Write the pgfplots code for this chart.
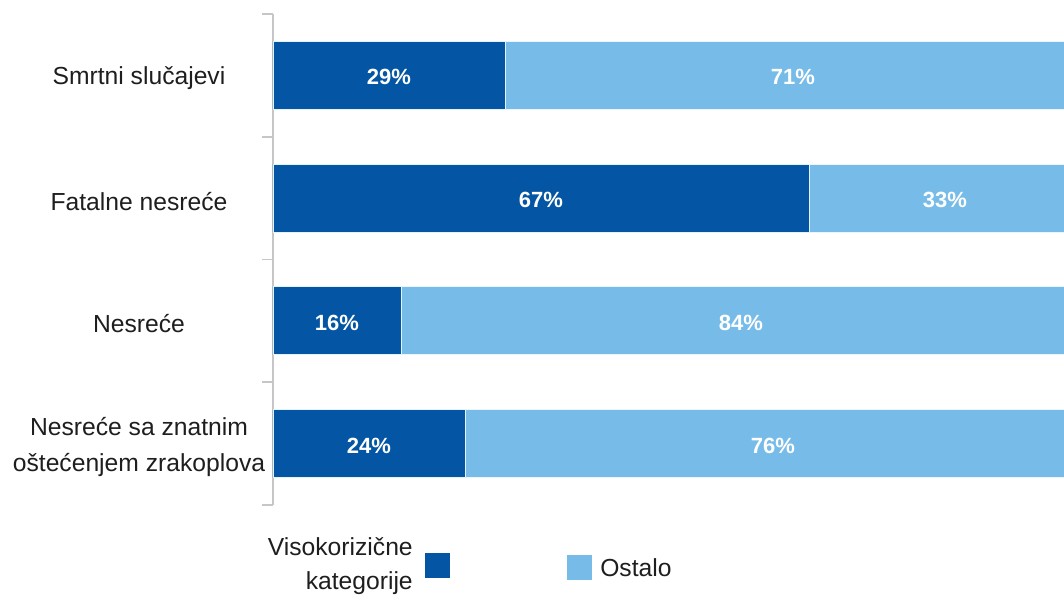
\documentclass[border=0pt]{standalone}
\usepackage{fontspec}
\setmainfont{Liberation Sans}
\usepackage{pgfplots}
\pgfplotsset{compat=1.18}

\definecolor{darkbar}{RGB}{4,85,163}
\definecolor{lightbar}{RGB}{119,188,232}
\definecolor{txt}{RGB}{30,30,30}
\def\u{0.75pt}

\begin{document}
\begin{tikzpicture}
\path[use as bounding box] (0,0) rectangle (1064*\u,595*\u);
\begin{axis}[
    at={(273*\u,90*\u)}, anchor=south west,
    scale only axis,
    width=791*\u, height=491*\u,
    xmin=0, xmax=98.875,
    ymin=-0.5, ymax=3.5,
    y dir=reverse,
    axis x line=none,
    axis y line*=left,
    axis line style={draw=gray!45, line width=1.2pt},
    ytick={0,1,2,3},
    yticklabels={Smrtni slučajevi, Fatalne nesreće, Nesreće, {Nesreće sa znatnim\\oštećenjem zrakoplova}},
    yticklabel style={font=\fontsize{18.5}{27}\selectfont, text=txt, align=center, anchor=center, xshift=-134*\u, yshift=-3*\u},
    major tick length=0pt,
    tick align=outside,
    extra y ticks={-0.5,0.5,1.5,2.5,3.5},
    extra y tick labels={},
    extra y tick style={major tick length=11*\u, tick style={draw=gray!45, line width=1.2pt}},
    bar width=68*\u,
]
\addplot[xbar, bar shift=0pt, fill=lightbar, draw=white!85!lightbar, line width=0.6pt]
  coordinates {(100,0) (100,1) (100,2) (100,3)};
\addplot[xbar, bar shift=0pt, fill=darkbar, draw=white!80!lightbar, line width=0.6pt]
  coordinates {(29,0) (67,1) (16,2) (24,3)};
\addplot[only marks, mark=none, point meta=explicit symbolic, nodes near coords,
  every node near coord/.append style={anchor=center, yshift=-2*\u, text=white, font=\fontsize{16.5}{18}\selectfont\bfseries}]
  coordinates {
    (14.5,0) [29\%] (65,0) [71\%]
    (33.5,1) [67\%] (84,1) [33\%]
    (8,2) [16\%] (58.5,2) [84\%]
    (12,3) [24\%] (62.5,3) [76\%]
  };
\end{axis}
% legend
\node[anchor=east, align=right, text=txt, font=\fontsize{18.5}{25}\selectfont, inner sep=0pt] at (413*\u,29*\u) {Visokorizične\\kategorije};
\fill[darkbar] (425*\u,17*\u) rectangle (450*\u,42*\u);
\fill[lightbar] (567*\u,15*\u) rectangle (592*\u,40*\u);
\node[anchor=west, text=txt, font=\fontsize{18.5}{25}\selectfont, inner sep=0pt] at (600*\u,27*\u) {Ostalo};
\end{tikzpicture}
\end{document}
